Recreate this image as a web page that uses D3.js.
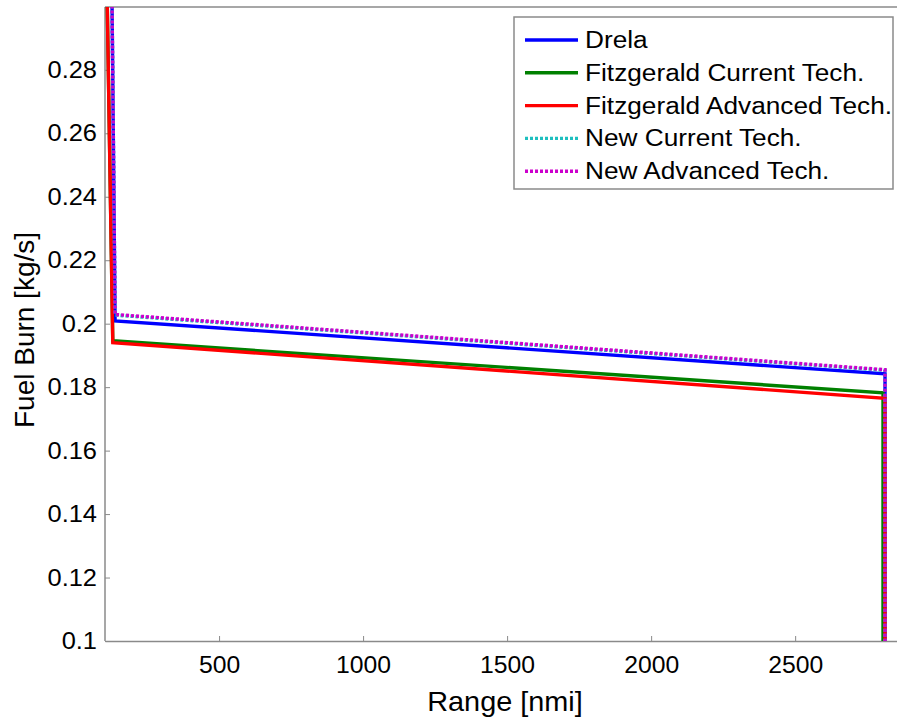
<!DOCTYPE html>
<html>
<head>
<meta charset="utf-8">
<script src="https://cdn.jsdelivr.net/npm/d3@7"></script>
<style>
  html, body { margin: 0; padding: 0; background: #fff; }
  svg { display: block; }
  text { font-family: "Liberation Sans", Arial, Helvetica, sans-serif; fill: #000; }
</style>
</head>
<body>
<svg id="chart" width="897" height="721"></svg>
<script>
// ---- data ----
const seriesNames = ["Drela", "Fitzgerald Current Tech.", "Fitzgerald Advanced Tech.", "New Current Tech.", "New Advanced Tech."];
const rangeDrela = [128, 139, 2812, 2812];
const burnDrela = [0.305, 0.2009, 0.1842, 0.09];
const rangeFitzCurrent = [111, 131, 2805, 2805];
const burnFitzCurrent = [0.305, 0.1946, 0.1782, 0.09];
const rangeFitzAdvanced = [111, 131, 2812, 2812];
const burnFitzAdvanced = [0.305, 0.1940, 0.1765, 0.09];
const rangeNewCurrent = [128, 139, 2812, 2812];
const burnNewCurrent = [0.305, 0.2027, 0.1853, 0.09];
const rangeNewAdvanced = [128, 139, 2812, 2812];
const burnNewAdvanced = [0.305, 0.2029, 0.1855, 0.09];
const xTicks = [500, 1000, 1500, 2000, 2500];
const yTicks = [0.1, 0.12, 0.14, 0.16, 0.18, 0.2, 0.22, 0.24, 0.26, 0.28];
const xDomain = [104, 2864];
const yDomain = [0.1, 0.2998];

// ---- styles ----
const styles = [
  { color: "#0000ff", dash: null },
  { color: "#008000", dash: null },
  { color: "#ff0000", dash: null },
  { color: "#1fbfbf", dash: "3,2" },
  { color: "#cc00cc", dash: "3,2" }
];
const xs = [rangeDrela, rangeFitzCurrent, rangeFitzAdvanced, rangeNewCurrent, rangeNewAdvanced];
const ys = [burnDrela, burnFitzCurrent, burnFitzAdvanced, burnNewCurrent, burnNewAdvanced];

const svg = d3.select("#chart");
const pLeft = 105, pRight = 900, pTop = 7, pBottom = 641;
const x = d3.scaleLinear().domain(xDomain).range([pLeft, pRight]);
const y = d3.scaleLinear().domain(yDomain).range([pBottom, pTop]);

svg.append("defs").append("clipPath").attr("id", "clip")
  .append("rect").attr("x", pLeft).attr("y", pTop).attr("width", pRight - pLeft).attr("height", pBottom - pTop);

function stretch(sel, k) {
  sel.each(function () {
    const w = this.getComputedTextLength();
    d3.select(this).attr("textLength", w * k).attr("lengthAdjust", "spacingAndGlyphs");
  });
}

// axes box
const axisColor = "#8a8a8a";
const xAxis = d3.axisBottom(x).tickValues(xTicks).tickSizeInner(-5).tickSizeOuter(0).tickPadding(15).tickFormat(d3.format("d"));
const gx = svg.append("g").attr("transform", `translate(0,${pBottom})`).call(xAxis);
const yAxis = d3.axisLeft(y).tickValues(yTicks).tickSizeInner(-5).tickSizeOuter(0).tickPadding(8).tickFormat(d => String(+d.toFixed(2)));
const gy = svg.append("g").attr("transform", `translate(${pLeft},0)`).call(yAxis);
[gx, gy].forEach(g => {
  g.select(".domain").attr("stroke", axisColor).attr("stroke-width", 1.5);
  g.selectAll(".tick line").attr("stroke", axisColor).attr("stroke-width", 1);
  g.selectAll(".tick text").attr("font-size", 24).attr("font-family", "Liberation Sans, Arial, sans-serif").attr("fill", "#000");
});
stretch(gy.selectAll(".tick text"), 1.06);
stretch(gx.selectAll(".tick text"), 1.03);
gy.select(".domain").attr("d", `M0,${pBottom}V${pTop}`);
svg.append("line").attr("x1", pLeft).attr("x2", pRight).attr("y1", pTop).attr("y2", pTop)
  .attr("stroke", axisColor).attr("stroke-width", 1.5);

// lines
const line = d3.line().x(d => x(d[0])).y(d => y(d[1]));
const plot = svg.append("g").attr("clip-path", "url(#clip)");
xs.forEach((xv, i) => {
  const pts = xv.map((v, j) => [v, ys[i][j]]);
  plot.append("path").datum(pts).attr("d", line)
    .attr("fill", "none").attr("stroke", styles[i].color)
    .attr("stroke-width", 3.4)
    .attr("stroke-dasharray", styles[i].dash)
    .attr("stroke-linejoin", "miter");
});

// axis titles
const xt = svg.append("text").attr("x", 505).attr("y", 711).attr("text-anchor", "middle")
  .attr("font-size", 28).text("Range [nmi]");
stretch(xt, 1.03);
const yt = svg.append("text").attr("transform", "translate(34,330) rotate(-90)").attr("text-anchor", "middle")
  .attr("font-size", 28).text("Fuel Burn [kg/s]");

// legend
const lg = svg.append("g");
lg.append("rect").attr("x", 514).attr("y", 17).attr("width", 379).attr("height", 172)
  .attr("fill", "#fff").attr("stroke", axisColor).attr("stroke-width", 1.5);
seriesNames.forEach((name, i) => {
  const cy = 40 + i * 32.8;
  lg.append("line").attr("x1", 525).attr("x2", 578).attr("y1", cy).attr("y2", cy)
    .attr("stroke", styles[i].color).attr("stroke-width", 3.4).attr("stroke-dasharray", styles[i].dash);
  const t = lg.append("text").attr("x", 585).attr("y", cy + 8).attr("font-size", 23).text(name);
  stretch(t, 1.14);
});
</script>
</body>
</html>
